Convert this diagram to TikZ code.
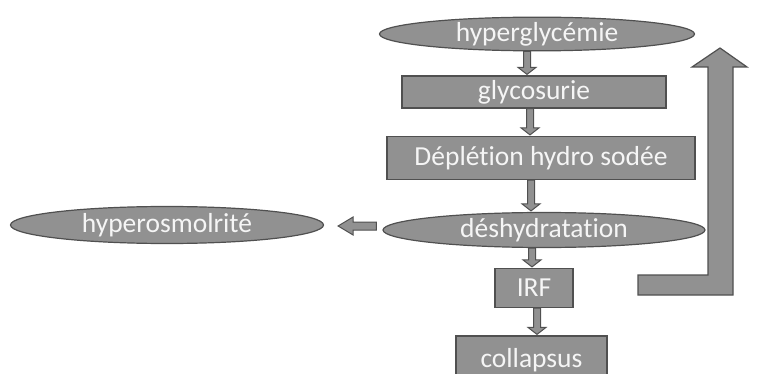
\documentclass[tikz,border=0pt]{standalone}
\usepackage{fontspec}
\setmainfont{Carlito}[Ligatures=NoCommon]
\usetikzlibrary{shapes.geometric,calc}
\definecolor{boxfill}{RGB}{145,145,145}
\definecolor{boxline}{RGB}{80,80,80}
\definecolor{txt}{RGB}{245,245,245}
\tikzset{
  base/.style={fill=boxfill, draw=boxline, line width=1.2pt, text=txt,
    font=\fontsize{27.5}{29}\selectfont, inner sep=0pt},
  ell/.style={base, ellipse},
  rbox/.style={base, rectangle},
  blk/.style={fill=boxfill, draw=boxline, line width=1pt, line join=miter},
}
\newcommand\vblk[3]{%
  \path[blk] let \p1=(#1.south -| #3), \p2=(#2.north -| #3) in
    (\x1-3.5pt,\y1) -- (\x1-3.5pt,\y2+8pt) -- (\x1-9pt,\y2+8pt) -- (\x2,\y2+1pt)
    -- (\x1+9pt,\y2+8pt) -- (\x1+3.5pt,\y2+8pt) -- (\x1+3.5pt,\y1) -- cycle;}
\begin{document}
\begin{tikzpicture}[x=1pt,y=-1pt]
\useasboundingbox (0,0) rectangle (757,374);
\node[ell, minimum width=315, minimum height=32] (hyper) at (537,34) {hyperglycémie};
\node[rbox, minimum width=264, minimum height=32] (glyco) at (534,92) {glycosurie};
\node[rbox, minimum width=308, minimum height=43] (deple) at (541,158) {Déplétion hydro sodée};
\node[ell, minimum width=322, minimum height=35] (desh) at (544,230) {déshydratation};
\node[ell, minimum width=313, minimum height=37] (hosm) at (167,225) {hyperosmolrité};
\node[rbox, minimum width=78, minimum height=39] (irf) at (534,288) {IRF};
\node[rbox, minimum width=151, minimum height=48] (coll) at (531.5,360) {collapsus};
\coordinate (x1) at (527,0);
\coordinate (x2) at (530,0);
\coordinate (x3) at (531,0);
\coordinate (x4) at (532,0);
\coordinate (x5) at (537,0);
\vblk{hyper}{glyco}{x1}
\vblk{glyco}{deple}{x2}
\vblk{deple}{desh}{x3}
\vblk{desh}{irf}{x4}
\vblk{irf}{coll}{x5}
% left arrow
\path[blk] let \p1=(desh.west), \p2=(hosm.east) in
  (\x1-6pt,\y1+0pt) -- (\x1-6pt,\y1+8pt) -- (\x2+29pt,\y1+8pt) -- (\x2+29pt,\y1+13pt)
  -- (\x2+14pt,\y1+4pt) -- (\x2+29pt,\y1-5pt) -- (\x2+29pt,\y1+0pt) -- cycle;
% big L arrow
\path[blk, line width=1.2pt] (638,275) -- (708,275) -- (708,67) -- (692,67) -- (720,48)
  -- (747,67) -- (733,67) -- (733,295) -- (638,295) -- cycle;
\end{tikzpicture}
\end{document}
